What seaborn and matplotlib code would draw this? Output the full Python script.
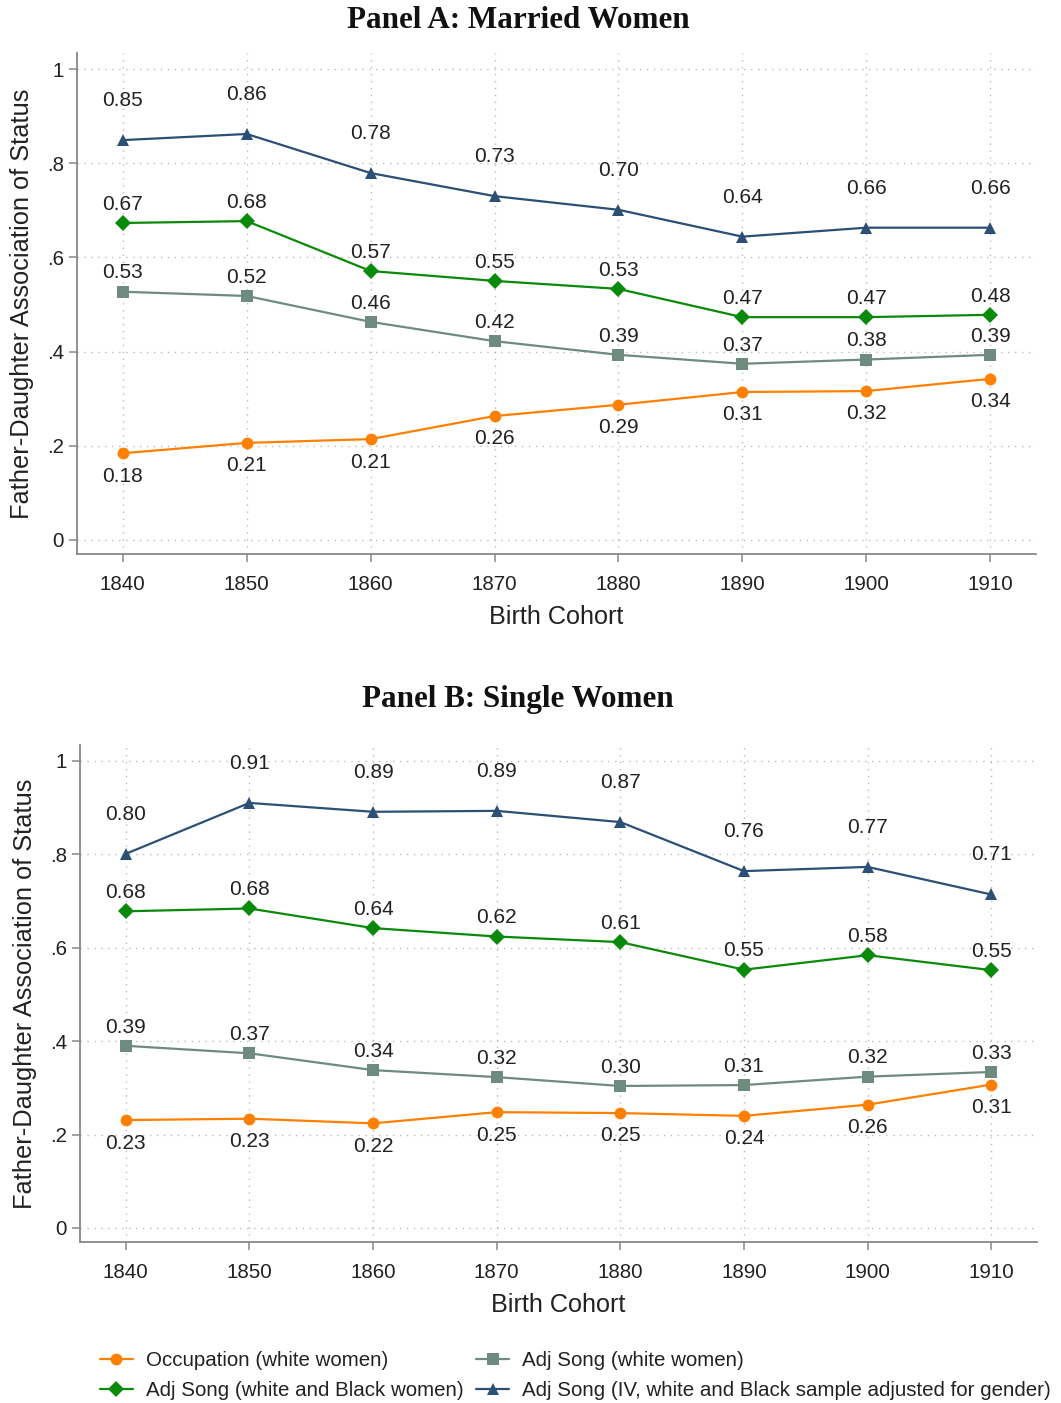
import matplotlib
matplotlib.use("Agg")
import matplotlib.pyplot as plt
import seaborn as sns
import pandas as pd
import numpy as np

cohorts = [1840, 1850, 1860, 1870, 1880, 1890, 1900, 1910]

# Panel A: Married women
a_occ = [0.184, 0.206, 0.214, 0.263, 0.287, 0.314, 0.316, 0.342]
a_song_w = [0.527, 0.518, 0.463, 0.422, 0.393, 0.374, 0.383, 0.393]
a_song_wb = [0.673, 0.677, 0.571, 0.550, 0.533, 0.473, 0.473, 0.478]
a_song_iv = [0.849, 0.862, 0.779, 0.730, 0.701, 0.644, 0.663, 0.663]

# Panel B: Single women
b_occ = [0.231, 0.234, 0.224, 0.248, 0.246, 0.240, 0.264, 0.307]
b_song_w = [0.390, 0.374, 0.338, 0.323, 0.304, 0.306, 0.324, 0.334]
b_song_wb = [0.678, 0.684, 0.642, 0.624, 0.612, 0.553, 0.584, 0.552]
b_song_iv = [0.801, 0.910, 0.891, 0.893, 0.869, 0.764, 0.773, 0.714]

series_names = ["Occupation (white women)", "Adj Song (white women)",
                "Adj Song (white and Black women)",
                "Adj Song (IV, white and Black sample adjusted for gender)"]
yticks = [0, 0.2, 0.4, 0.6, 0.8, 1.0]
ytick_labels = ["0", ".2", ".4", ".6", ".8", "1"]

colors = ["#ff8000", "#6e8b7f", "#0a8a0a", "#2b4f75"]
markers = ["o", "s", "D", "^"]
msizes = [8.5, 8, 8, 8]
label_offsets = [-16.5, 13.5, 13.5, 28.5]  # points (vertical)

sns.set_theme(style="white")
plt.rcParams['font.family'] = ['Liberation Sans', 'DejaVu Sans']

fig = plt.figure(figsize=(10.61, 14.03), dpi=100)
axA = fig.add_axes([77/1061, 1-554/1403, (1036-77)/1061, (554-53)/1403])
axB = fig.add_axes([80/1061, 1-1242/1403, (1037-80)/1061, (1242-745)/1403])


def draw(ax, data, title, title_y):
    df = pd.DataFrame({"cohort": cohorts * 4,
                       "value": sum(data, []),
                       "series": sum([[n] * len(cohorts) for n in series_names], [])})
    for i, name in enumerate(series_names):
        sub = df[df.series == name]
        sns.lineplot(data=sub, x="cohort", y="value", ax=ax, color=colors[i],
                     marker=markers[i], markersize=msizes[i], markeredgewidth=0,
                     linewidth=1.6, label=name, legend=False, zorder=3 + i)
        for x, y in zip(sub.cohort, sub.value):
            ax.annotate(f"{y:.2f}", (x, y), xytext=(0, label_offsets[i]),
                        textcoords="offset points", ha="center", va="center",
                        fontsize=15, color="#222222", zorder=10)
    ax.set_xlim(1836.3, 1913.7)
    ax.set_ylim(-0.03, 1.034)
    ax.set_xticks(cohorts)
    ax.set_xticklabels([str(c) for c in cohorts])
    ax.set_yticks(yticks)
    ax.set_yticklabels(ytick_labels)
    ax.grid(True, linestyle=(0, (1, 4)), color="#bbbbbb", linewidth=1.0)
    for s in ["top", "right"]:
        ax.spines[s].set_visible(False)
    for s in ["left", "bottom"]:
        ax.spines[s].set_color("#888888")
        ax.spines[s].set_linewidth(1.3)
    ax.tick_params(axis="both", which="both", direction="out", length=6,
                   width=1.1, color="#888888", labelsize=14.8,
                   labelcolor="#222222", left=True, bottom=True)
    ax.tick_params(axis="x", pad=9)
    ax.set_xlabel("Birth Cohort", fontsize=18.2, color="#222222", labelpad=8)
    ax.set_ylabel("Father-Daughter Association of Status", fontsize=18.3,
                  color="#222222", labelpad=9)
    fig.text(518/1061, title_y, title, ha="center", va="center",
             fontsize=22.4, fontweight="bold", family=["Liberation Serif", "DejaVu Serif"],
             color="#111111")


draw(axA, [a_occ, a_song_w, a_song_wb, a_song_iv], "Panel A: Married Women", 1-20/1403)
draw(axB, [b_occ, b_song_w, b_song_wb, b_song_iv], "Panel B: Single Women", 1-700/1403)

handles, labels = axB.get_legend_handles_labels()
order = [0, 2, 1, 3]
leg = fig.legend([handles[k] for k in order], [labels[k] for k in order],
                 loc="upper left", bbox_to_anchor=(100/1061, 1-1351/1403), ncol=2,
                 frameon=False, fontsize=14.8, handlelength=1.6, handletextpad=0.65,
                 columnspacing=0.6, labelspacing=0.55, borderaxespad=0, borderpad=0)
for t in leg.get_texts():
    t.set_color("#222222")

fig.savefig("out.png", dpi=100)
